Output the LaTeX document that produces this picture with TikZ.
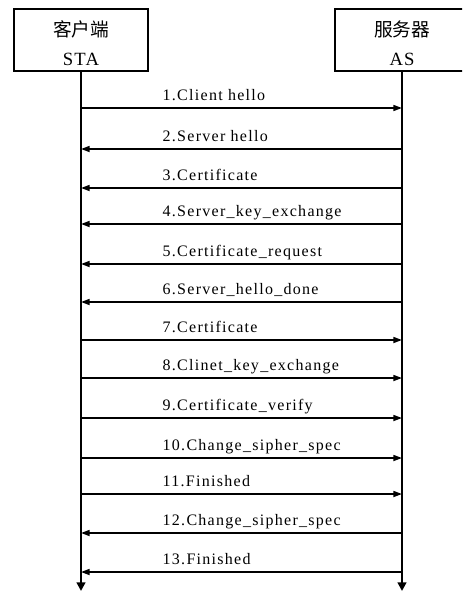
\documentclass[tikz,border=0pt]{standalone}
\usepackage{fontspec}
\setmainfont{Liberation Serif}
\newfontfamily\cjk{Noto Sans CJK SC}
\newfontfamily\msgfont[LetterSpace=8]{Liberation Serif}
\newfontfamily\tagfont[LetterSpace=6]{Liberation Serif}
\usetikzlibrary{arrows.meta}

\begin{document}
\begin{tikzpicture}
    [x=0.75pt, y=-0.75pt,
     party/.style={rectangle, draw, line width=1.5pt, minimum width=100.5pt, minimum height=46.5pt, inner sep=0pt},
     life/.style={line width=1.7pt, -{Triangle[length=6.5pt,width=6.5pt]}},
     tosrv/.style={line width=1.2pt, -{Triangle[length=6.5pt,width=4.5pt]}},
     tosta/.style={line width=1.2pt, {Triangle[length=6.5pt,width=4.5pt]}-},
     lbl/.style={anchor=base west, pos=0.252, yshift=5.6pt, inner sep=0pt, font=\msgfont\fontsize{12pt}{14pt}\selectfont}]

    \useasboundingbox (0,0) rectangle (462,592);
    \clip (0,0) rectangle (462,592);

    % the two parties
    \node[party] (sta) at (81,40) {};
    \node[party] (as) at (402,40) {};
    \node (staname) at (81,29) {\cjk\fontsize{14pt}{16pt}\selectfont 客户端};
    \node (statag) at (81,59) {\tagfont\fontsize{14pt}{16pt}\selectfont STA};
    \node (asname) at (402,29) {\cjk\fontsize{14pt}{16pt}\selectfont 服务器};
    \node (astag) at (402,59) {\tagfont\fontsize{14pt}{16pt}\selectfont AS};

    % lifelines
    \coordinate (staend) at (81,591);
    \coordinate (asend) at (402,591);
    \draw[life] (sta) -- (staend);
    \draw[life] (as) -- (asend);

    % message points on both lifelines
    \foreach \y [count=\i] in {108,149,188,224,264,302,340,378,418,458,494,533,572} {
      \coordinate (s\i) at (81,\y);
      \coordinate (a\i) at (402,\y);
    }

    % handshake messages
    \draw[tosrv] (s1) -- node[lbl] {1.Client hello} (a1);
    \draw[tosta] (s2) -- node[lbl] {2.Server hello} (a2);
    \draw[tosta] (s3) -- node[lbl] {3.Certificate} (a3);
    \draw[tosta] (s4) -- node[lbl] {4.Server\_key\_exchange} (a4);
    \draw[tosta] (s5) -- node[lbl] {5.Certificate\_request} (a5);
    \draw[tosta] (s6) -- node[lbl] {6.Server\_hello\_done} (a6);
    \draw[tosrv] (s7) -- node[lbl] {7.Certificate} (a7);
    \draw[tosrv] (s8) -- node[lbl] {8.Clinet\_key\_exchange} (a8);
    \draw[tosrv] (s9) -- node[lbl] {9.Certificate\_verify} (a9);
    \draw[tosrv] (s10) -- node[lbl] {10.Change\_sipher\_spec} (a10);
    \draw[tosrv] (s11) -- node[lbl] {11.Finished} (a11);
    \draw[tosta] (s12) -- node[lbl] {12.Change\_sipher\_spec} (a12);
    \draw[tosta] (s13) -- node[lbl] {13.Finished} (a13);
\end{tikzpicture}
\end{document}
